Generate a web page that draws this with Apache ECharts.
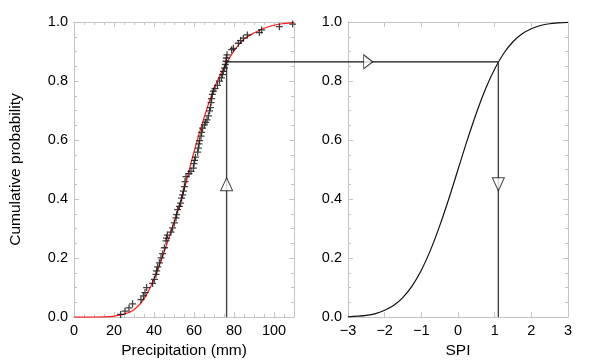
<!DOCTYPE html>
<html><head><meta charset="utf-8">
<script src="https://cdn.jsdelivr.net/npm/echarts@6/dist/echarts.min.js"></script>
<style>html,body{margin:0;padding:0;background:#fff}#c{width:600px;height:364px}</style>
</head><body><div id="c"></div>
<script>
// ---- data ----
const precipObs = [23.3,25.5,27.5,29.3,33.5,34.7,35.5,36.3,39.3,40.2,41.0,41.3,41.8,42.7,43.5,44.3,45.2,46.0,46.3,46.7,
  48.5,49.3,50.2,51.0,51.3,51.8,52.7,53.3,53.8,54.3,54.7,55.2,55.5,56.0,57.5,58.5,59.7,60.0,60.3,60.7,
  61.8,62.2,62.5,62.8,63.5,63.8,64.3,65.2,65.8,66.5,67.2,67.8,68.2,68.5,68.8,69.2,69.7,70.5,71.7,72.7,
  73.7,74.2,74.7,75.2,75.7,76.0,76.2,76.5,78.8,79.7,82.2,83.3,84.7,86.7,92.7,93.8,102.7,109.3];
const probObs = [0.009,0.020,0.031,0.045,0.059,0.072,0.083,0.100,0.114,0.128,0.145,0.157,0.170,0.184,0.201,0.215,0.235,0.258,0.268,0.278,
  0.288,0.302,0.319,0.336,0.347,0.364,0.375,0.386,0.403,0.414,0.427,0.442,0.459,0.476,0.486,0.494,0.505,0.520,0.531,0.542,
  0.559,0.573,0.587,0.598,0.613,0.626,0.640,0.651,0.660,0.668,0.682,0.699,0.710,0.727,0.740,0.755,0.766,0.774,0.785,0.800,
  0.811,0.822,0.833,0.844,0.856,0.867,0.878,0.889,0.906,0.911,0.928,0.937,0.945,0.956,0.964,0.973,0.984,0.993];
const gammaX   = [0,10,15,20,25,30,35,40,45,50,55,60,65,70,75,80,85,90,95,100,105,110];
const gammaCDF = [0,0,0.0005,0.003,0.01,0.025,0.062,0.128,0.22,0.32,0.43,0.56,0.675,0.775,0.845,0.902,0.942,0.963,0.979,0.989,0.995,0.998];
const spiX   = [-3,-2.75,-2.5,-2.25,-2,-1.75,-1.5,-1.25,-1,-0.75,-0.5,-0.25,0,0.25,0.5,0.75,1,1.25,1.5,1.75,2,2.25,2.5,2.75,3];
const spiCDF = [0.001,0.003,0.006,0.012,0.023,0.040,0.067,0.106,0.159,0.227,0.309,0.401,0.5,0.599,0.691,0.773,0.841,0.894,0.933,0.960,0.977,0.988,0.994,0.997,0.999];
const precipTicks = [0,20,40,60,80,100];
const spiTicks = [-3,-2,-1,0,1,2,3];
const probTicks = [0,0.2,0.4,0.6,0.8,1.0];
const precipValue = 76.3, probValue = 0.865, spiValue = 1.1;
const arrowProb = 0.45, arrowSpi = -2.45;

const FONT = 'Liberation Sans, Arial, Helvetica, sans-serif';
const frame = '#c4c4c4';
const ink = '#111';
const sty = {fontFamily: FONT, fontSize: 14.5, color: '#000'};
const nameSty = {fontFamily: FONT, fontSize: 15.5, color: '#000'};

function xAx(grid, min, max, interval, pos, minor, name) {
  return {
    type: 'value', gridIndex: grid, position: pos, min, max, interval,
    name: name || '', nameLocation: 'middle', nameGap: 24, nameTextStyle: nameSty,
    axisLine: {show: true, onZero: false, lineStyle: {color: frame, width: 1}},
    axisTick: {show: true, inside: true, length: 5, lineStyle: {color: frame}},
    minorTick: {show: minor > 0, splitNumber: minor || 5, length: 3, lineStyle: {color: frame}},
    axisLabel: {show: pos === 'bottom', margin: 6, ...sty,
      formatter: v => String(v).replace('-', '\u2212')},
    splitLine: {show: false}
  };
}
function yAx(grid, pos, name) {
  return {
    type: 'value', gridIndex: grid, position: pos, min: 0, max: 1, interval: 0.2,
    name: name || '', nameLocation: 'middle', nameGap: 50, nameTextStyle: nameSty,
    axisLine: {show: true, onZero: false, lineStyle: {color: frame, width: 1}},
    axisTick: {show: true, inside: true, length: 5, lineStyle: {color: frame}},
    minorTick: {show: true, splitNumber: 4, length: 3, lineStyle: {color: frame}},
    axisLabel: {show: pos === 'left', margin: 6, ...sty, formatter: v => v.toFixed(1)},
    splitLine: {show: false}
  };
}

const crossPath = 'path://M-0.18,-1L0.18,-1L0.18,-0.18L1,-0.18L1,0.18L0.18,0.18L0.18,1L-0.18,1L-0.18,0.18L-1,0.18L-1,-0.18L-0.18,-0.18Z';

const chart = echarts.init(document.getElementById('c'), null, {renderer: 'canvas'});
chart.setOption({
  animation: false,
  backgroundColor: '#fff',
  textStyle: {fontFamily: FONT},
  grid: [
    {left: 74, top: 22, width: 220, height: 298},
    {left: 348, top: 22, width: 220, height: 298}
  ],
  xAxis: [
    xAx(0, 0, 110, 20, 'bottom', 4, 'Precipitation (mm)'),
    xAx(0, 0, 110, 20, 'top', 4),
    xAx(1, -3, 3, 1, 'bottom', 0, 'SPI'),
    xAx(1, -3, 3, 1, 'top', 0)
  ],
  yAxis: [
    yAx(0, 'left', 'Cumulative probability'),
    yAx(0, 'right'),
    yAx(1, 'left'),
    yAx(1, 'right')
  ],
  series: [
    {type: 'line', xAxisIndex: 0, yAxisIndex: 0, smooth: 0.3, showSymbol: false,
     data: gammaX.map((x, i) => [x, gammaCDF[i]]), lineStyle: {color: '#ff1a1a', width: 1.2}, z: 3},
    {type: 'scatter', xAxisIndex: 0, yAxisIndex: 0, symbol: crossPath, symbolSize: 7,
     data: precipObs.map((x, i) => [x, probObs[i]]), itemStyle: {color: ink}, z: 4},
    {type: 'line', xAxisIndex: 2, yAxisIndex: 2, smooth: 0.3, showSymbol: false,
     data: spiX.map((x, i) => [x, spiCDF[i]]), lineStyle: {color: ink, width: 1.2}},
    {type: 'line', xAxisIndex: 0, yAxisIndex: 0, showSymbol: false,
     data: [[precipValue, 0], [precipValue, probValue]], lineStyle: {color: '#444', width: 1.4}},
    {type: 'line', xAxisIndex: 2, yAxisIndex: 2, showSymbol: false,
     data: [[spiValue, probValue], [spiValue, 0]], lineStyle: {color: '#444', width: 1.4}},
    {type: 'scatter', xAxisIndex: 0, yAxisIndex: 0, symbol: 'triangle', symbolSize: [12, 13],
     data: [[precipValue, arrowProb]], itemStyle: {color: '#fff', borderColor: ink, borderWidth: 1}, z: 6},
    {type: 'scatter', xAxisIndex: 2, yAxisIndex: 2, symbol: 'triangle', symbolSize: [12, 13], symbolRotate: 180,
     data: [[spiValue, arrowProb]], itemStyle: {color: '#fff', borderColor: ink, borderWidth: 1}, z: 6},
    {type: 'scatter', xAxisIndex: 2, yAxisIndex: 2, symbol: 'triangle', symbolSize: [14, 9], symbolRotate: -90,
     data: [[arrowSpi, probValue]], itemStyle: {color: '#fff', borderColor: ink, borderWidth: 1}, z: 6}
  ]
});

// horizontal connector across both panels, positioned through the axes
const x1 = chart.convertToPixel({xAxisIndex: 0}, precipValue);
const x2 = chart.convertToPixel({xAxisIndex: 2}, spiValue);
const yy = chart.convertToPixel({yAxisIndex: 0}, probValue);
chart.setOption({
  graphic: [{type: 'line', shape: {x1: x1, y1: yy, x2: x2, y2: yy},
    style: {stroke: ink, lineWidth: 1.2}, z: 5}]
});
</script></body></html>
